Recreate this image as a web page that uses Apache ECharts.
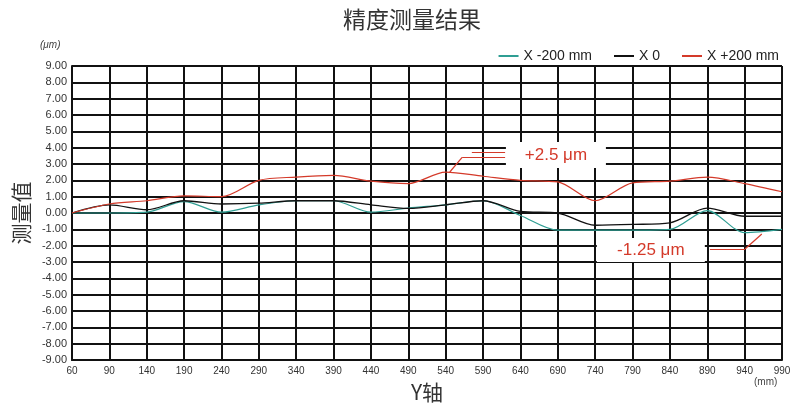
<!DOCTYPE html>
<html>
<head>
<meta charset="utf-8">
<script src="https://cdn.jsdelivr.net/npm/echarts@6/dist/echarts.min.js"></script>
<style>
  html, body { margin: 0; padding: 0; background: #fff; }
  #main { width: 800px; height: 416px; }
</style>
</head>
<body>
<div id="main"></div>
<script>
// Y轴位置 (mm)
var yPos = ['60', '90', '140', '190', '240', '290', '340', '390', '440', '490',
            '540', '590', '640', '690', '740', '790', '840', '890', '940', '990'];
// 测量值 (μm)
var xMinus200 = [0, 0, 0.05, 0.7, 0.05, 0.5, 0.75, 0.75, 0.05, 0.3,
                 0.5, 0.75, -0.15, -1.05, -1.05, -1.05, -1.0, 0.15, -1.2, -1.0];
var x0 = [0, 0.5, 0.2, 0.75, 0.55, 0.6, 0.75, 0.75, 0.5, 0.28,
          0.5, 0.75, 0.1, 0.0, -0.75, -0.7, -0.6, 0.3, -0.2, -0.2];
var xPlus200 = [0, 0.55, 0.75, 1.05, 1.0, 2.0, 2.2, 2.3, 1.95, 1.8,
                2.5, 2.25, 2.0, 1.9, 0.75, 1.85, 1.95, 2.2, 1.8, 1.3];
var yTicks = [-9, -8, -7, -6, -5, -4, -3, -2, -1, 0, 1, 2, 3, 4, 5, 6, 7, 8, 9];

var cTeal = '#2f9e93', cBlack = '#111111', cRed = '#d43a2a';

function pairs(arr) {
    return arr.map(function (v, i) { return [i, v]; });
}

var myChart = echarts.init(document.getElementById('main'));
var option = {
    backgroundColor: '#fff',
    animation: false,
    title: {
        text: '精度测量结果',
        left: 338,
        top: 3,
        textStyle: { fontSize: 23, fontWeight: 'normal', color: '#333', fontFamily: 'Noto Sans CJK SC' }
    },
    legend: {
        right: 16,
        top: 44,
        itemWidth: 20,
        itemHeight: 2,
        itemGap: 22,
        icon: 'rect',
        textStyle: { fontSize: 14, color: '#222', fontFamily: 'Liberation Sans' },
        data: ['X -200 mm', 'X 0', 'X +200 mm']
    },
    grid: { left: 72, right: 18, top: 66, bottom: 56 },
    xAxis: {
        type: 'value',
        min: 0,
        max: yPos.length - 1,
        interval: 1,
        name: 'Y轴',
        nameLocation: 'middle',
        nameGap: 22,
        nameTextStyle: { fontSize: 21, color: '#333', fontFamily: 'Noto Sans CJK SC' },
        axisLine: { onZero: false, lineStyle: { color: '#111', width: 2 } },
        axisTick: { show: false },
        splitLine: { show: true, lineStyle: { color: '#111', width: 2 } },
        axisLabel: {
            fontSize: 10, color: '#333', margin: 6, fontFamily: 'Liberation Sans',
            formatter: function (v) { return yPos[v]; }
        }
    },
    yAxis: {
        type: 'value',
        min: yTicks[0],
        max: yTicks[yTicks.length - 1],
        interval: 1,
        name: '测量值',
        nameLocation: 'middle',
        nameRotate: 90,
        nameGap: 40,
        nameTextStyle: { fontSize: 21, color: '#333', fontFamily: 'Noto Sans CJK SC' },
        axisLine: { show: true, lineStyle: { color: '#111', width: 2 } },
        axisTick: { show: false },
        splitLine: { show: true, lineStyle: { color: '#111', width: 2 } },
        axisLabel: {
            fontSize: 11, color: '#333', margin: 5, fontFamily: 'Liberation Sans',
            formatter: function (v) { return v.toFixed(2); }
        }
    },
    graphic: [
        { type: 'text', left: 40, top: 40, style: { text: '(μm)', fontSize: 10, fill: '#444', fontStyle: 'italic' } },
        { type: 'text', left: 754, top: 377, style: { text: '(mm)', fontSize: 10, fill: '#444' } }
    ],
    series: [
        {
            name: 'X -200 mm',
            type: 'line',
            smooth: 0.3,
            showSymbol: false,
            color: cTeal,
            lineStyle: { width: 1.2, color: cTeal },
            data: pairs(xMinus200),
            markLine: {
                silent: true,
                symbol: ['none', 'none'],
                label: { show: false },
                lineStyle: { color: cRed, width: 1.2, type: 'solid' },
                data: [
                    [{ coord: [17.07, -2.2] }, { coord: [18.01, -2.2] }],
                    [{ coord: [18.01, -2.2] }, { coord: [18.46, -1.29] }]
                ]
            },
            markPoint: {
                silent: true,
                symbol: 'rect',
                symbolSize: [108, 24],
                itemStyle: { color: '#fff', borderWidth: 0, shadowBlur: 0 },
                label: { show: true, position: 'inside', color: cRed, fontSize: 17, fontFamily: 'Liberation Sans' },
                data: [{ coord: [15.49, -2.27], value: '-1.25 μm' }]
            }
        },
        {
            name: 'X 0',
            type: 'line',
            smooth: 0.3,
            showSymbol: false,
            color: cBlack,
            lineStyle: { width: 1.3, color: cBlack },
            data: pairs(x0)
        },
        {
            name: 'X +200 mm',
            type: 'line',
            smooth: 0.3,
            showSymbol: false,
            color: cRed,
            lineStyle: { width: 1.2, color: cRed },
            data: pairs(xPlus200),
            markLine: {
                silent: true,
                symbol: ['none', 'none'],
                label: { show: false },
                lineStyle: { color: cRed, width: 1.2, type: 'solid' },
                data: [
                    [{ coord: [10.11, 2.51] }, { coord: [10.44, 3.4] }],
                    [{ coord: [10.44, 3.4] }, { coord: [11.59, 3.4] }],
                    [{ coord: [10.7, 3.7] }, { coord: [11.59, 3.7] }]
                ]
            },
            markPoint: {
                silent: true,
                symbol: 'rect',
                symbolSize: [100, 26],
                itemStyle: { color: '#fff', borderWidth: 0, shadowBlur: 0 },
                label: { show: true, position: 'inside', color: cRed, fontSize: 17, fontFamily: 'Liberation Sans' },
                data: [{ coord: [12.95, 3.55], value: '+2.5 μm' }]
            }
        }
    ]
};
myChart.setOption(option, true);
</script>
</body>
</html>
